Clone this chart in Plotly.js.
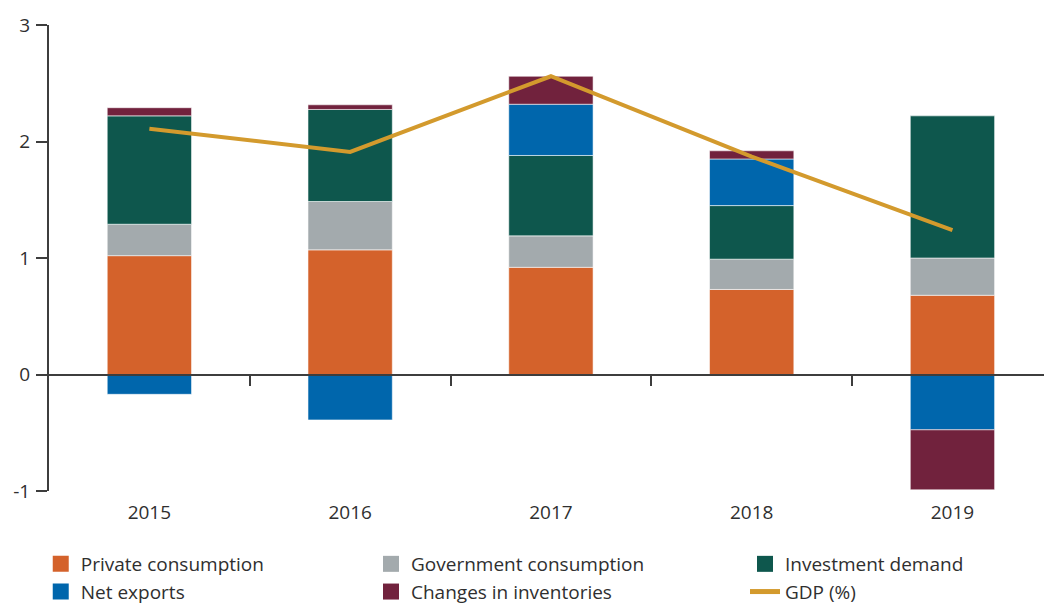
<!DOCTYPE html>
<html>
<head>
<meta charset="utf-8">
<script src="https://cdn.plot.ly/plotly-3.0.1.min.js"></script>
<style>html,body{margin:0;padding:0;background:#fff;}#chart{width:1044px;height:606px;}</style>
</head>
<body>
<div id="chart"></div>
<script>
const years = ['2015', '2016', '2017', '2018', '2019'];
const privateConsumption = [1.02, 1.07, 0.92, 0.73, 0.68];
const governmentConsumption = [0.27, 0.415, 0.27, 0.26, 0.32];
const investmentDemand = [0.93, 0.79, 0.69, 0.46, 1.22];
const netExports = [-0.17, -0.39, 0.44, 0.40, -0.475];
const changesInInventories = [0.07, 0.04, 0.24, 0.07, -0.515];
const gdp = [2.11, 1.91, 2.56, 1.87, 1.24];
const yTicks = [-1, 0, 1, 2, 3];
const yTickText = ['-1', '0', '1', '2', '3'];

const FONT = '"Open Sans", Lato, sans-serif';
const FS = 19;
const TXT = '#2f2f2f';
const AX = '#3d3d3d';
const yMin = -1, yMax = 3;
const xMax = 4.456;
const boundaryTicks = years.slice(1).map((_, i) => i + 0.5);

const COLORS = {
  priv: '#D4622B', gov: '#A3AAAD', inv: '#0E574D', net: '#0066AC', chg: '#71223D', gdp: '#D39A2D'
};

const edge = {color: 'rgba(255,255,255,0.7)', width: 0.8};
function barTrace(name, vals, color) {
  return {type: 'bar', name: name, x: years, y: vals, xaxis: 'x', yaxis: 'y',
    marker: {color: color, line: edge}, width: 0.42, showlegend: false};
}
function legendSquare(name, color, legend) {
  return {type: 'scatter', mode: 'markers', name: name, x: [null], y: [null],
    marker: {symbol: 'square', size: 16, color: color}, legend: legend};
}
const traces = [
  barTrace('Private consumption', privateConsumption, COLORS.priv),
  barTrace('Government consumption', governmentConsumption, COLORS.gov),
  barTrace('Investment demand', investmentDemand, COLORS.inv),
  barTrace('Net exports', netExports, COLORS.net),
  barTrace('Changes in inventories', changesInInventories, COLORS.chg),
  {type: 'scatter', mode: 'lines', name: 'GDP (%)', x: years, y: gdp, xaxis: 'x', yaxis: 'y',
    line: {color: COLORS.gdp, width: 4}, showlegend: false},
  legendSquare('Private consumption', COLORS.priv, 'legend'),
  legendSquare('Government consumption', COLORS.gov, 'legend2'),
  legendSquare('Investment demand', COLORS.inv, 'legend3'),
  legendSquare('Net exports', COLORS.net, 'legend'),
  legendSquare('Changes in inventories', COLORS.chg, 'legend2'),
  {type: 'scatter', mode: 'lines', name: 'GDP (%)', x: [null], y: [null],
    line: {color: COLORS.gdp, width: 5}, legend: 'legend3'},
  // invisible trace to activate the zero-line axis
  {type: 'scatter', x: [0], y: [0], xaxis: 'x2', yaxis: 'y', mode: 'markers',
    marker: {opacity: 0}, showlegend: false, hoverinfo: 'skip'}
];

const legendBase = {orientation: 'v', yref: 'container', yanchor: 'top', y: 1 - 545 / 606,
  xanchor: 'left', font: {family: FONT, size: FS, color: TXT}, bgcolor: 'rgba(0,0,0,0)',
  itemwidth: 30, itemsizing: 'trace', traceorder: 'normal', tracegroupgap: 0};

const layout = {
  width: 1044, height: 606,
  margin: {l: 49, r: 0, t: 25, b: 115, pad: 0, autoexpand: false},
  paper_bgcolor: '#fff', plot_bgcolor: '#fff',
  barmode: 'relative',
  showlegend: true,
  font: {family: FONT, size: FS, color: TXT},
  xaxis: {type: 'category', categoryarray: years, range: [-0.5, xMax],
    showline: false, ticks: '', showgrid: false, zeroline: false,
    tickfont: {family: FONT, size: FS, color: TXT}, ticklabelstandoff: 8},
  xaxis2: {overlaying: 'x', anchor: 'free', position: (0 - yMin) / (yMax - yMin),
    range: [-0.5, xMax], tickvals: boundaryTicks, showticklabels: false,
    showline: true, linecolor: AX, linewidth: 2, ticks: 'outside', ticklen: 10,
    tickwidth: 2, tickcolor: AX, showgrid: false, zeroline: false},
  yaxis: {range: [yMin, yMax], tickvals: yTicks, ticktext: yTickText, showline: true,
    linecolor: AX, linewidth: 2, ticks: 'outside', ticklen: 11, tickwidth: 2, tickcolor: AX,
    showgrid: false, zeroline: false,
    tickfont: {family: FONT, size: FS, color: TXT}, ticklabelstandoff: 2},
  legend: Object.assign({}, legendBase, {x: -0.0083}),
  legend2: Object.assign({}, legendBase, {x: 0.3236}),
  legend3: Object.assign({}, legendBase, {x: 0.6995})
};

Plotly.newPlot('chart', traces, layout, {displayModeBar: false, staticPlot: true});
</script>
</body>
</html>
